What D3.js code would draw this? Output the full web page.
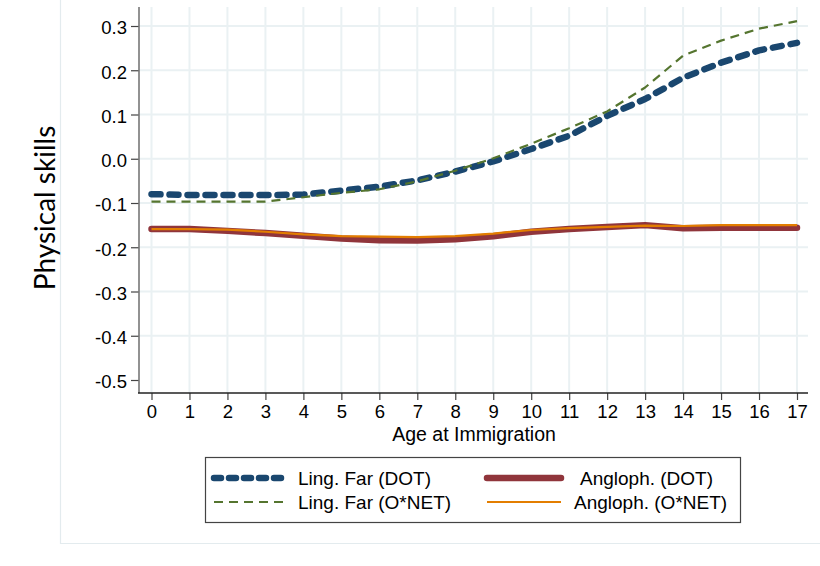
<!DOCTYPE html>
<html>
<head>
<meta charset="utf-8">
<script src="https://cdn.jsdelivr.net/npm/d3@7"></script>
<style>
  html, body { margin: 0; padding: 0; background: #fff; }
  svg { display: block; }
  text { font-family: "Liberation Sans", Arial, sans-serif; fill: #000; }
</style>
</head>
<body>
<svg id="chart" width="820" height="566"></svg>
<script>
// Age at immigration (x) and estimated physical-skills profiles
const ages = [0, 1, 2, 3, 4, 5, 6, 7, 8, 9, 10, 11, 12, 13, 14, 15, 16, 17];
const lingFarDOT   = [-0.080, -0.082, -0.082, -0.082, -0.081, -0.072, -0.063, -0.049, -0.029, -0.006, 0.022, 0.052, 0.097, 0.135, 0.183, 0.217, 0.245, 0.262];
const anglophDOT   = [-0.159, -0.159, -0.163, -0.168, -0.174, -0.180, -0.184, -0.185, -0.182, -0.175, -0.165, -0.159, -0.154, -0.150, -0.157, -0.156, -0.156, -0.156];
const lingFarONET  = [-0.097, -0.097, -0.097, -0.097, -0.087, -0.077, -0.069, -0.051, -0.027, 0.001, 0.034, 0.069, 0.107, 0.161, 0.233, 0.267, 0.294, 0.311];
const anglophONET  = [-0.159, -0.159, -0.160, -0.165, -0.171, -0.175, -0.176, -0.177, -0.175, -0.169, -0.161, -0.157, -0.154, -0.151, -0.152, -0.150, -0.150, -0.150];

const yTicks = [-0.5, -0.4, -0.3, -0.2, -0.1, 0.0, 0.1, 0.2, 0.3];
const yTickLabels = ["-0.5", "-0.4", "-0.3", "-0.2", "-0.1", "0.0", "0.1", "0.2", "0.3"];
const yGridTicks = [-0.4, -0.3, -0.2, -0.1, 0.0, 0.1, 0.2, 0.3];

const yTitle = "Physical skills";
const xTitle = "Age at Immigration";

const seriesNames = ["Ling. Far (DOT)", "Angloph. (DOT)", "Ling. Far (O*NET)", "Angloph. (O*NET)"];
const seriesValues = [lingFarDOT, anglophDOT, lingFarONET, anglophONET];

// drawing styles per series (Stata s2color palette)
const styles = [
  { color: "#1a476f", width: 6.5, dash: "9,9", cap: "round" },
  { color: "#90353b", width: 6.5, dash: null, cap: "round" },
  { color: "#55752f", width: 2.2, dash: "9,6", cap: "butt" },
  { color: "#e37e00", width: 2.2, dash: null, cap: "butt" }
];

const svg = d3.select("#chart");

// outer graph region frame
svg.append("path")
  .attr("d", "M60.5,0 V543.5 H820")
  .attr("fill", "none")
  .attr("stroke", "#e3ebee")
  .attr("stroke-width", 1.2);

const plot = { left: 139, right: 808, top: 7, bottom: 393 };

const x = d3.scaleLinear().domain([0, 17]).range([151.5, 797]);
const y = d3.scaleLinear().domain([-0.5, 0.3]).range([380, 26]);

// grid
const grid = svg.append("g");
grid.selectAll("line.h").data(yGridTicks).join("line")
  .attr("x1", plot.left).attr("x2", plot.right)
  .attr("y1", d => y(d)).attr("y2", d => y(d))
  .attr("stroke", "#eaf1f3").attr("stroke-width", 2);
grid.selectAll("line.v").data(ages).join("line")
  .attr("x1", d => x(d)).attr("x2", d => x(d))
  .attr("y1", plot.top).attr("y2", plot.bottom)
  .attr("stroke", "#eaf1f3").attr("stroke-width", 2);

// axes
const yAxis = d3.axisLeft(y)
  .tickValues(yTicks)
  .tickFormat((d, i) => yTickLabels[i])
  .tickSize(8).tickPadding(4);
const gy = svg.append("g").attr("transform", `translate(${plot.left},0)`).call(yAxis);
gy.select(".domain").remove();
gy.selectAll(".tick line").attr("stroke", "#444").attr("stroke-width", 1.2);
gy.selectAll(".tick text")
  .attr("font-size", 18.5)
  .attr("font-family", "Liberation Sans, Arial, sans-serif")
  .attr("fill", "#000")
  .attr("dy", "0.42em");
gy.append("line")
  .attr("x1", 0).attr("x2", 0).attr("y1", plot.top).attr("y2", plot.bottom)
  .attr("stroke", "#777").attr("stroke-width", 1.6);

const xAxis = d3.axisBottom(x)
  .tickValues(ages)
  .tickFormat(d => String(d))
  .tickSize(7).tickPadding(5);
const gx = svg.append("g").attr("transform", `translate(0,${plot.bottom})`).call(xAxis);
gx.select(".domain").remove();
gx.selectAll(".tick line").attr("stroke", "#444").attr("stroke-width", 1.2);
gx.selectAll(".tick text")
  .attr("font-size", 18.5)
  .attr("font-family", "Liberation Sans, Arial, sans-serif")
  .attr("fill", "#000");
gx.append("line")
  .attr("x1", plot.left - 1).attr("x2", plot.right).attr("y1", 0).attr("y2", 0)
  .attr("stroke", "#222").attr("stroke-width", 1.3);

// axis titles
svg.append("text")
  .attr("x", 474).attr("y", 441)
  .attr("text-anchor", "middle")
  .attr("font-size", 19.5)
  .text(xTitle);

svg.append("text")
  .attr("transform", "translate(55,208) rotate(-90)")
  .attr("text-anchor", "middle")
  .style("font-family", "Lato, 'Open Sans', sans-serif")
  .attr("font-size", 28)
  .text(yTitle);

// series lines
const line = d3.line()
  .x((d, i) => x(ages[i]))
  .y(d => y(d))
  .curve(d3.curveLinear);

const lines = svg.append("g");
seriesValues.forEach((vals, k) => {
  const s = styles[k];
  lines.append("path")
    .datum(vals)
    .attr("d", line)
    .attr("fill", "none")
    .attr("stroke", s.color)
    .attr("stroke-width", s.width)
    .attr("stroke-linecap", s.cap)
    .attr("stroke-linejoin", "round")
    .attr("stroke-dasharray", s.dash);
});

// legend
const legend = svg.append("g");
legend.append("rect")
  .attr("x", 205.5).attr("y", 457.5).attr("width", 535).attr("height", 65)
  .attr("fill", "#fff").attr("stroke", "#444").attr("stroke-width", 1.2);

const legendItems = [
  { k: 0, x1: 214, x2: 288, tx: 298, ty: 478 },
  { k: 1, x1: 487, x2: 561, tx: 580, ty: 478 },
  { k: 2, x1: 214, x2: 288, tx: 298, ty: 502 },
  { k: 3, x1: 487, x2: 561, tx: 574, ty: 502 }
];
legendItems.forEach(it => {
  const s = styles[it.k];
  legend.append("line")
    .attr("x1", it.x1).attr("x2", it.x2).attr("y1", it.ty).attr("y2", it.ty)
    .attr("stroke", s.color)
    .attr("stroke-width", s.width)
    .attr("stroke-linecap", s.cap)
    .attr("stroke-dasharray", it.k === 0 ? "7,8" : s.dash);
  legend.append("text")
    .attr("x", it.tx).attr("y", it.ty)
    .attr("dy", "0.36em")
    .attr("font-size", 19)
    .text(seriesNames[it.k]);
});
</script>
</body>
</html>
